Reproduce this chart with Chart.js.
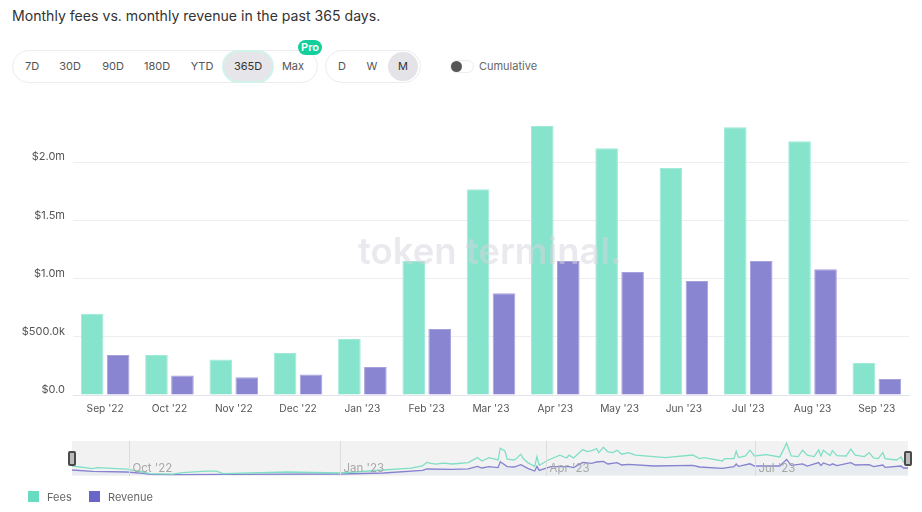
<!DOCTYPE html>
<html>
<head>
<meta charset="utf-8">
<script src="https://cdn.jsdelivr.net/npm/chart.js@4"></script>
<style>
  html, body { margin:0; padding:0; background:#fff; }
  body { width:922px; height:512px; position:relative; overflow:hidden; font-family:Inter, sans-serif; color:#444; }
  .abs { position:absolute; }
  .txt { position:absolute; transform:translate(-50%,-50%); white-space:nowrap; font-size:11px; color:#555; }
  .pill { position:absolute; border:1px solid #ececf0; border-radius:17px; box-sizing:border-box; background:#fff; }
  #mainChart, #miniChart { position:absolute; }
  #watermark { position:absolute; left:358px; top:229px; font-size:36.5px; font-weight:600; color:rgba(214,214,222,.5); white-space:nowrap; pointer-events:none; }
  .handle { position:absolute; width:8px; height:15px; top:451px; background:#4a4a4a; border-radius:2px; box-sizing:border-box; border:2px solid #4a4a4a; }
  .handle i { display:block; width:4px; height:11px; background:#bbb; }
</style>
</head>
<body>
<div class="abs" style="left:12px;top:7px;font-size:14.1px;color:#333;white-space:nowrap">Monthly fees vs. monthly revenue in the past 365 days.</div>

<div class="pill" style="left:12px;top:50px;width:306px;height:33px"></div>
<div class="abs" style="left:222px;top:50px;width:52px;height:33px;border-radius:17px;background:#e6e6ea;box-sizing:border-box;border:2px solid #d2f3ea"></div>
<div class="txt" style="left:32px;top:66px">7D</div>
<div class="txt" style="left:70px;top:66px">30D</div>
<div class="txt" style="left:113px;top:66px">90D</div>
<div class="txt" style="left:157px;top:66px">180D</div>
<div class="txt" style="left:202px;top:66px">YTD</div>
<div class="txt" style="left:248px;top:66px;color:#333">365D</div>
<div class="txt" style="left:293px;top:66px">Max</div>
<div class="abs" style="left:298px;top:40px;width:24px;height:15px;border-radius:8px;background:#12cf9c"></div>
<div class="txt" style="left:310px;top:47px;color:#fff;font-weight:600">Pro</div>

<div class="pill" style="left:325px;top:50px;width:96px;height:33px"></div>
<div class="abs" style="left:388px;top:52px;width:30px;height:29px;border-radius:15px;background:#e4e4e8"></div>
<div class="txt" style="left:342px;top:66px">D</div>
<div class="txt" style="left:372px;top:66px">W</div>
<div class="txt" style="left:403px;top:66px;color:#333">M</div>

<div class="abs" style="left:450px;top:60px;width:24px;height:13px;border-radius:7px;border:1px solid #ececf0;box-sizing:border-box"></div>
<div class="abs" style="left:451px;top:61px;width:11px;height:11px;border-radius:6px;background:#555"></div>
<div class="txt" style="left:508px;top:66px;color:#666">Cumulative</div>

<canvas id="mainChart" style="left:0;top:101px;width:922px;height:329px"></canvas>
<div id="watermark">token terminal.</div>

<div class="abs" style="left:72px;top:441px;width:836px;height:35px;background:#f2f2f2"></div>
<canvas id="miniChart" style="left:72px;top:441px;width:836px;height:35px"></canvas>
<div class="handle" style="left:68px"><i></i></div>
<div class="handle" style="left:904px"><i></i></div>

<div class="abs" style="left:28px;top:491px;width:11px;height:11px;background:#68dcc0"></div>
<div class="abs" style="left:47px;top:490px;font-size:11px;color:#666">Fees</div>
<div class="abs" style="left:89px;top:491px;width:11px;height:11px;background:#6a66c8"></div>
<div class="abs" style="left:108px;top:490px;font-size:11px;color:#666">Revenue</div>

<script>
// monthly bars, $m
const months = ["Sep '22","Oct '22","Nov '22","Dec '22","Jan '23","Feb '23","Mar '23","Apr '23","May '23","Jun '23","Jul '23","Aug '23","Sep '23"];
const fees = [0.695,0.343,0.305,0.36,0.48,1.15,1.768,2.31,2.12,1.95,2.30,2.18,0.275];
const revenue = [0.343,0.167,0.152,0.176,0.24,0.567,0.875,1.15,1.056,0.98,1.15,1.08,0.137];
const yTicks = [0,0.5,1,1.5,2];
const yTickLabels = ['$0.0','$500.0k','$1.0m','$1.5m','$2.0m'];

// range slider overview, day index from start of window / daily $k
const feeDays = [0,9,11,24,31,34,44,48,59,63,66,94,117,136,148,153,155,156,159,162,166,173,177,179,182,186,187,189,190,193,194,196,197,199,202,203,204,208,213,216,217,219,223,225,227,229,230,232,234,236,238,240,243,246,254,259,271,274,276,284,285,289,290,291,294,296,298,303,309,310,312,314,317,319,321,324,326,327,328,331,332,334,338,340,342,346,348,350,352,354,355,360,362,363,365];
const feeDaily = [45,32,37,29,15,7,4,12,19,19,7,15,10,25,34,45,64,59,54,59,55,62,87,70,87,75,134,120,79,75,82,104,82,62,42,92,49,75,99,85,99,85,127,117,122,132,112,139,115,112,124,104,112,99,92,87,100,82,87,70,82,82,119,87,95,124,95,102,90,112,159,95,92,124,99,92,125,95,124,97,122,97,95,129,99,92,112,85,82,112,82,75,90,65,65];
const revDays = [0,9,24,31,34,44,66,117,136,153,155,166,173,177,179,182,186,187,190,193,196,199,202,203,204,209,217,219,223,227,229,232,234,238,240,243,254,271,274,284,289,290,291,296,298,309,312,314,319,321,326,327,328,331,332,334,340,342,348,350,354,355,362,363,365];
const revDaily = [25,18,15,8,3,2,3,5,10,23,30,28,31,43,35,42,37,66,42,40,52,33,20,43,23,42,42,37,63,58,65,68,55,62,50,53,45,48,40,33,42,55,43,56,45,45,78,48,56,45,62,47,60,48,56,47,62,50,52,42,50,38,45,35,35];
const sliderMonthDays = [25,117,207,298];
const sliderMonthLabels = ["Oct '22","Jan '23","Apr '23","Jul '23"];

const zip = (xs, ys) => xs.map((x,i) => ({x, y:ys[i]}));

new Chart(document.getElementById('mainChart'), {
  type: 'bar',
  data: {
    labels: months,
    datasets: [
      { label:'Fees', data:fees, backgroundColor:'#86e3cc', borderColor:'#a0eada', borderWidth:1, categoryPercentage:0.808, barPercentage:0.87 },
      { label:'Revenue', data:revenue, backgroundColor:'#8985d1', borderColor:'#a5a2de', borderWidth:1, categoryPercentage:0.808, barPercentage:0.87 }
    ]
  },
  options: {
    responsive:false, animation:false, devicePixelRatio:1,
    layout:{ padding:{ right:13, top:0 } },
    plugins:{ legend:{ display:false }, tooltip:{ enabled:false } },
    scales:{
      x:{
        grid:{ display:false, drawTicks:false },
        border:{ color:'#e3e3ec' },
        ticks:{ color:'#555', font:{ family:'Inter', size:10.2 }, padding:8, maxRotation:0, autoSkip:false },
        afterFit: s => { s.height = 35; }
      },
      y:{
        min:0, max:2.4,
        afterBuildTicks: s => { s.ticks = yTicks.map(v => ({value:v})); },
        grid:{ color:'#eeeef2', drawTicks:false },
        border:{ display:false },
        ticks:{ color:'#555', font:{ family:'Inter', size:11 }, padding:8, labelOffset:-5,
          callback: v => yTickLabels[yTicks.indexOf(v)] },
        afterFit: s => { s.width = 73; }
      }
    }
  }
});

// month lines and labels inside the overview
const sliderMonths = {
  id:'sliderMonths',
  afterDatasetsDraw(chart){
    const {ctx, scales:{x}, chartArea:a} = chart;
    ctx.save();
    ctx.font = '11.5px Inter';
    ctx.textBaseline = 'middle';
    sliderMonthDays.forEach((d,i) => {
      const px = Math.round(x.getPixelForValue(d)) + .5;
      ctx.strokeStyle = '#dcdcdc';
      ctx.beginPath(); ctx.moveTo(px,a.top); ctx.lineTo(px,a.bottom); ctx.stroke();
      ctx.fillStyle = '#a8a8a8';
      ctx.fillText(sliderMonthLabels[i], px+3, 28);
    });
    ctx.restore();
  }
};

new Chart(document.getElementById('miniChart'), {
  type:'line',
  data:{
    datasets:[
      { data:zip(feeDays,feeDaily), borderColor:'#7fdfc5', borderWidth:1.3, pointRadius:0, fill:false },
      { data:zip(revDays,revDaily), borderColor:'#8582cf', borderWidth:1.3, pointRadius:0, fill:'origin', backgroundColor:'#e8ebef' }
    ]
  },
  options:{
    responsive:false, animation:false, devicePixelRatio:1,
    layout:{ padding:0 },
    plugins:{ legend:{ display:false }, tooltip:{ enabled:false } },
    scales:{
      x:{ type:'linear', min:0, max:365, display:false },
      y:{ min:-5, max:170, display:false }
    }
  },
  plugins:[sliderMonths]
});
</script>
</body>
</html>
